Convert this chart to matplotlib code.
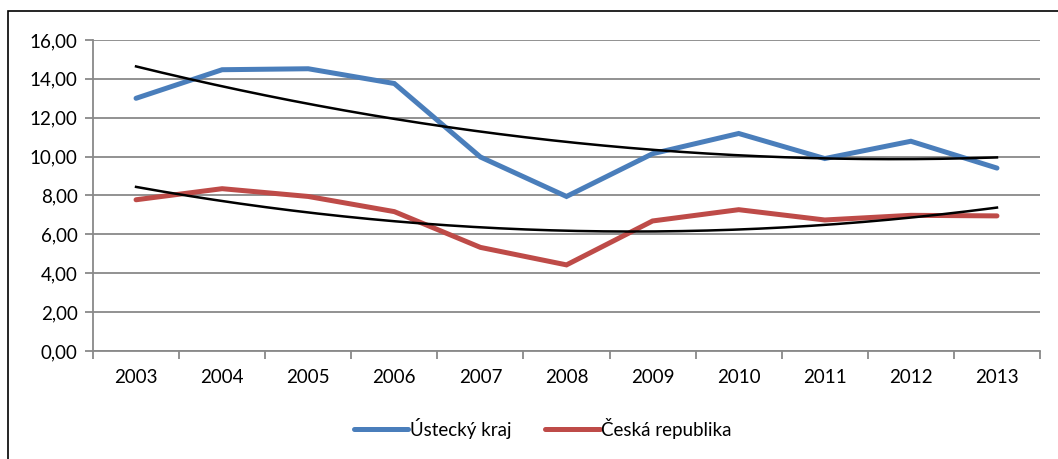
import numpy as np
import matplotlib
matplotlib.use("Agg")
import matplotlib.pyplot as plt
from matplotlib.patches import Rectangle
from matplotlib.ticker import FuncFormatter

years = ["2003", "2004", "2005", "2006", "2007", "2008",
         "2009", "2010", "2011", "2012", "2013"]
ustecky = [13.00, 14.47, 14.52, 13.76, 9.98, 7.95, 10.15, 11.19, 9.90, 10.79, 9.41]
cr = [7.78, 8.35, 7.95, 7.17, 5.33, 4.43, 6.69, 7.27, 6.74, 6.98, 6.95]

BLUE = "#4A7EBB"
RED = "#BE4B48"
GRID = "#898989"

plt.rcParams['font.family'] = ['Lato', 'DejaVu Sans']

fig = plt.figure(figsize=(10.58, 4.59), dpi=100)
ax = fig.add_axes([0.0879, 0.2353, 0.8951, 0.6776])

x = np.arange(len(years))

# polynomial trendlines (order 2), like excel
xs = np.linspace(0, len(years) - 1, 200)
for vals in (ustecky, cr):
    coef = np.polyfit(x, vals, 2)
    ax.plot(xs, np.polyval(coef, xs), color="black", lw=1.8, zorder=4)

ax.plot(x, ustecky, color=BLUE, lw=3.6, label="Ústecký kraj", zorder=3,
        solid_joinstyle="miter", solid_capstyle="round")
ax.plot(x, cr, color=RED, lw=3.6, label="Česká republika", zorder=3,
        solid_joinstyle="miter", solid_capstyle="round")

ax.set_xlim(-0.5, len(years) - 0.5)
ax.set_ylim(0, 16)
ax.set_yticks(np.arange(0, 17, 2))
ax.yaxis.set_major_formatter(FuncFormatter(lambda v, p: f"{v:.2f}".replace(".", ",")))
ax.grid(axis="y", color=GRID, lw=1.3)
ax.set_axisbelow(True)

ax.set_xticks(x)
ax.set_xticklabels(years)
ax.set_xticks(np.arange(-0.5, len(years), 1), minor=True)
ax.tick_params(axis="x", which="major", length=0, pad=13, labelsize=13.5)
ax.tick_params(axis="x", which="minor", length=6, width=1.3, color=GRID, direction="out")
ax.tick_params(axis="y", length=6, width=1.3, color=GRID, pad=5, labelsize=13.5)

for s in ("top", "right"):
    ax.spines[s].set_visible(False)
for s in ("left", "bottom"):
    ax.spines[s].set_color(GRID)
    ax.spines[s].set_linewidth(1.3)

fig.legend(loc="center", bbox_to_anchor=(0.513, 0.0675), ncol=2, frameon=False,
           fontsize=13.5, handlelength=2.9, handletextpad=0.1, columnspacing=1.8)

# chart border (cut off at right/bottom in the original)
fig.patches.append(Rectangle((8 / 1058, -0.2), 1.5, 0.2 + 1 - 11 / 459,
                             transform=fig.transFigure, fill=False,
                             edgecolor="black", lw=1.2))

fig.savefig("out.png", dpi=100)
